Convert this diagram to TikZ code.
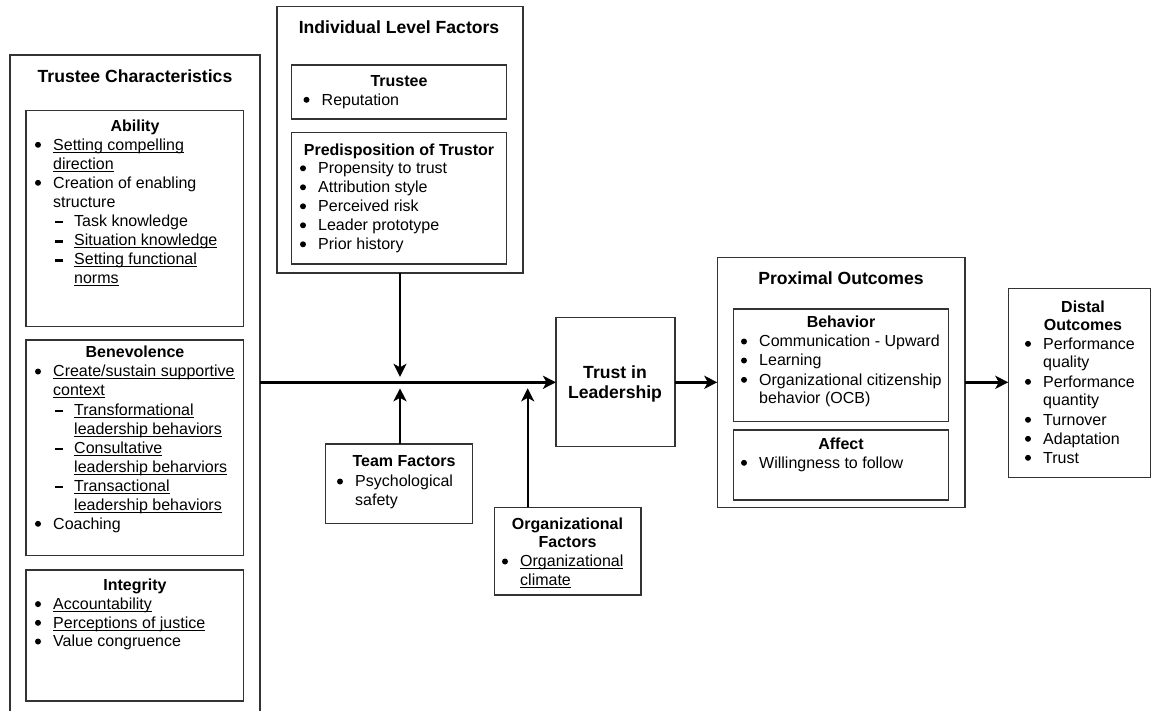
\documentclass[tikz,border=0pt]{standalone}
\usepackage{fontspec}
\setmainfont{Liberation Sans}
\usetikzlibrary{arrows.meta}
\definecolor{boxline}{HTML}{333333}
\tikzset{
  x=1pt, y=-1pt,
  box/.style={draw=boxline, line width=1.3pt, inner sep=0pt, outer sep=0pt, anchor=north west},
  txt/.style={anchor=base west, inner sep=0pt, font=\fontsize{16}{19}\selectfont},
  hd/.style={anchor=base, inner sep=0pt, font=\fontsize{16}{19}\selectfont\bfseries},
  bighd/.style={anchor=base, inner sep=0pt, font=\fontsize{17.6}{20}\selectfont\bfseries},
  dot/.style={fill=black},
  arr/.style={line width=2.4pt, -{Stealth[length=13pt,width=13pt,inset=3.5pt]}},
}
\newcommand\bx[5]{\node[box, minimum width={(#4-#2)*1pt}, minimum height={(#5-#3)*1pt}] (#1) at (#2,#3) {};}
% text line with a bullet drawn before it
\newcommand\bt[4]{\node[txt] (#1) at (#2,#3) {#4};
  \fill[dot] ([xshift=-15pt,yshift=5.2pt]#1.base west) circle (3pt);}
\newcommand\da{\llap{\rule[3pt]{8pt}{2.4pt}\hspace{11pt}}}
\newcommand\uln[1]{\setbox0\hbox{#1}\rlap{\rule[-2.6pt]{\wd0}{0.9pt}}\box0}
\begin{document}
\begin{tikzpicture}
\useasboundingbox (0,0) rectangle (1151,710);
% ---------------- Trustee Characteristics
\bx{tc}{10}{55}{260}{716}
\node[bighd] (tct) at (135,82) {Trustee Characteristics};
\bx{ab}{26}{110.5}{243.3}{326.7}
\node[hd] (abt) at (135,131.5) {Ability};
\bt{a1}{53}{150}{\uln{Setting compelling}}
\node[txt] (a2) at (53,169) {\uln{direction}};
\bt{a3}{53}{188}{Creation of enabling}
\node[txt] (a4) at (53,207) {structure};
\node[txt] (a5) at (74,226) {\da Task knowledge};
\node[txt] (a6) at (74,245.5) {\da\uln{Situation knowledge}};
\node[txt] (a7) at (74,264.5) {\da\uln{Setting functional}};
\node[txt] (a8) at (74,283.5) {\uln{norms}};
\bx{bn}{26}{340}{243.3}{555.7}
\node[hd] (bnt) at (135,357.3) {Benevolence};
\bt{b1}{53}{376.7}{\uln{Create/sustain supportive}}
\node[txt] (b2) at (53,395.7) {\uln{context}};
\node[txt] (b3) at (74,415) {\da\uln{Transformational}};
\node[txt] (b4) at (74,434) {\uln{leadership behaviors}};
\node[txt] (b5) at (74,453.3) {\da\uln{Consultative}};
\node[txt] (b6) at (74,472) {\uln{leadership beharviors}};
\node[txt] (b7) at (74,491) {\da\uln{Transactional}};
\node[txt] (b8) at (74,510) {\uln{leadership behaviors}};
\bt{b9}{53}{529}{Coaching}
\bx{ig}{26}{570}{243.3}{701}
\node[hd] (igt) at (135,590) {Integrity};
\bt{i1}{53}{609.3}{\uln{Accountability}}
\bt{i2}{53}{628}{\uln{Perceptions of justice}}
\bt{i3}{53}{646.7}{Value congruence}
% ---------------- Individual Level Factors
\bx{ilf}{277}{6.7}{523}{273}
\node[bighd] (ilft) at (399,33) {Individual Level Factors};
\bx{te}{291.7}{65}{506.7}{119}
\node[hd] (tet) at (399,86.7) {Trustee};
\bt{r1}{321.5}{105}{Reputation}
\bx{pd}{291.7}{132.3}{506.7}{264}
\node[hd] (pdt) at (399,155) {Predisposition of Trustor};
\bt{p1}{318}{173.5}{Propensity to trust}
\bt{p2}{318}{192.5}{Attribution style}
\bt{p3}{318}{211.5}{Perceived risk}
\bt{p4}{318}{230.5}{Leader prototype}
\bt{p5}{318}{249.5}{Prior history}
% ---------------- Trust in Leadership
\bx{til}{556}{317.7}{675}{446.7}
\node[bighd] (til1) at (615,378) {Trust in};
\node[bighd] (til2) at (615,398) {Leadership};
% ---------------- Team Factors
\bx{tf}{325.7}{444}{472.7}{523.3}
\node[hd] (tft) at (404,466.7) {Team Factors};
\bt{tf1}{355}{486.7}{Psychological}
\node[txt] (tf2) at (355,505) {safety};
% ---------------- Organizational Factors
\bx{of}{494.3}{507.3}{641}{595}
\node[hd] (oft1) at (567.5,529) {Organizational};
\node[hd] (oft2) at (567.5,547.3) {Factors};
\bt{of1}{520}{566.7}{\uln{Organizational}}
\node[txt] (of2) at (520,585) {\uln{climate}};
% ---------------- Proximal Outcomes
\bx{po}{717.3}{257.3}{965}{507.7}
\node[bighd] (pot) at (841,284.8) {Proximal Outcomes};
\bx{bh}{733.3}{309}{948.3}{421.7}
\node[hd] (bht) at (841,327.3) {Behavior};
\bt{h1}{759}{346.7}{Communication - Upward}
\bt{h2}{759}{365.7}{Learning}
\bt{h3}{759}{385}{Organizational citizenship}
\node[txt] (h4) at (759,403.5) {behavior (OCB)};
\bx{af}{733.3}{430}{948.3}{500}
\node[hd] (aft) at (841,449) {Affect};
\bt{f1}{759}{468}{Willingness to follow}
% ---------------- Distal Outcomes
\bx{do}{1008.3}{288.3}{1150.3}{477.7}
\node[hd] (dot1) at (1083,312) {Distal};
\node[hd] (dot2) at (1083,330.5) {Outcomes};
\bt{d1}{1043}{349}{Performance}
\node[txt] (d2) at (1043,367.5) {quality};
\bt{d3}{1043}{387}{Performance}
\node[txt] (d4) at (1043,405.5) {quantity};
\bt{d5}{1043}{425}{Turnover}
\bt{d6}{1043}{444}{Adaptation}
\bt{d7}{1043}{463}{Trust}
% ---------------- connectors
\coordinate (j1) at (400,382.3);
\coordinate (j2) at (527.7,382.3);
\draw[arr] (tc.east |- j1) -- (til.west |- j1);
\draw[arr] (j1 |- ilf.south) -- ([yshift=5.5pt]j1);
\draw[arr] (j1 |- tf.north) -- ([yshift=-6pt]j1);
\draw[arr] (j2 |- of.north) -- ([yshift=-6pt]j2);
\draw[arr] (til.east |- j1) -- (po.west |- j1);
\draw[arr] (po.east |- j1) -- (do.west |- j1);
\end{tikzpicture}
\end{document}
